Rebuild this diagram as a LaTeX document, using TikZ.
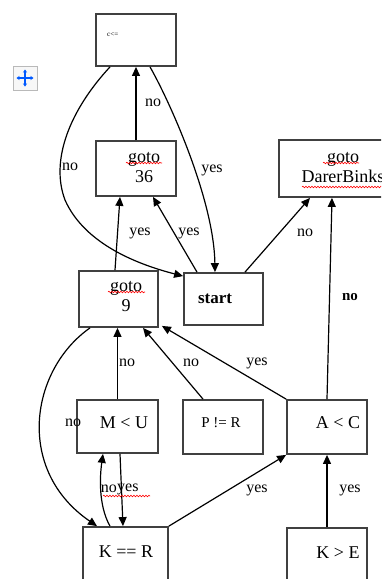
\documentclass[tikz,border=0pt]{standalone}
\usepackage{fontspec}
\setmainfont{Liberation Serif}
\usetikzlibrary{arrows.meta,calc,decorations.pathmorphing}
\begin{document}
\begin{tikzpicture}[x=1pt,y=-1pt,
 box/.style={draw=black!75,line width=1.8pt,rectangle,inner sep=0pt,anchor=center},
 btext/.style={font=\fontsize{18}{20}\selectfont,align=center,inner sep=0pt},
 lbl/.style={font=\fontsize{16}{18}\selectfont,inner sep=0pt},
 conn/.style={line width=1.2pt,-{Triangle[length=9pt,width=8pt]}},
 squig/.style={red,line width=0.6pt,decorate,decoration={snake,amplitude=0.8pt,segment length=3pt}}]
\useasboundingbox (0,0) rectangle (381,579);
\clip (0,0) rectangle (381,579);
% boxes
\node[box,minimum width=80,minimum height=52] (top) at (136,40) {};
\node[box,minimum width=80,minimum height=55] (g36) at (136,168.5) {};
\node[box,minimum width=122,minimum height=57] (dare) at (340,168.5) {};
\node[box,minimum width=79,minimum height=52] (start) at (223.5,299) {};
\node[box,minimum width=79,minimum height=56] (g9) at (118.5,299) {};
\node[box,minimum width=81,minimum height=53] (mu) at (117.5,426.5) {};
\node[box,minimum width=80,minimum height=54] (pr) at (223,427) {};
\node[box,minimum width=80,minimum height=54] (ac) at (327,427) {};
\node[box,minimum width=85,minimum height=63] (kr) at (125.5,558.5) {};
\node[box,minimum width=80,minimum height=62] (ke) at (327,559) {};
% texts
\node[font=\fontsize{7}{8}\selectfont,anchor=west,inner sep=0pt] (ttop) at (107,35) {c<=};
\node[btext] (t36) at (144,167.5) {goto\\36};
\node[btext] (tdare) at (343,168) {goto\\DarerBinks};
\node[font=\bfseries\fontsize{17}{19}\selectfont,inner sep=0pt] (tstart) at (215,299) {start};
\node[btext] (t9) at (126,297) {goto\\9};
\node[btext] (tmu) at (124,423) {M < U};
\node[font=\fontsize{15}{17}\selectfont,inner sep=0pt] (tpr) at (221,423) {P != R};
\node[btext] (tac) at (338,423) {A < C};
\node[btext] (tkr) at (126,552) {K == R};
\node[btext] (tke) at (338,553) {K > E};
% connectors
\draw[conn] (g36.north) -- (top.south);
\draw[conn] ($(top.south)+(14,0)$) .. controls (170,102) and (214,200) .. ($(start.north)+(-8.5,0)$);
\draw[conn] ($(top.south)+(-26,0)$) .. controls (70,110) and (50,160) .. (65,200) .. controls (85,245) and (140,265) .. ($(start.north west)+(0,4)$);
\draw[conn] ($(g9.north)+(-3.5,0)$) -- ($(g36.south)+(-16,0)$);
\draw[conn] ($(start.north)+(-26.5,0)$) -- ($(g36.south)+(17,0)$);
\draw[conn] ($(start.north)+(21.5,0)$) -- ($(dare.south)+(-30,0)$);
\draw[conn] (ac.north) -- ($(dare.south)+(-8,0)$);
\draw[conn] (ac.north west) -- ($(g9.south east)+(3,-2)$);
\draw[conn] ($(pr.north)+(-20,0)$) -- ($(g9.south)+(24.5,0)$);
\draw[conn] (mu.north) -- ($(g9.south)+(-1,0)$);
\draw[conn] ($(g9.south)+(-28.5,0)$) .. controls (30,370) and (15,470) .. ($(kr.north)+(-28.5,0)$);
\draw[conn] ($(kr.north)+(-15.5,0)$) .. controls (98,505) and (100,475) .. ($(mu.south)+(-14.5,0)$);
\draw[conn] ($(mu.south)+(2.5,0)$) -- ($(kr.north)+(-2.5,0)$);
\draw[conn] (kr.north east) -- (ac.south west);
\draw[conn] (ke.north) -- (ac.south);
% labels
\node[lbl] (l1) at (153,103) {no};
\node[lbl] (l2) at (212,170) {yes};
\node[lbl] (l3) at (70,167) {no};
\node[lbl] (l4) at (140,233) {yes};
\node[lbl] (l5) at (189,233) {yes};
\node[lbl] (l6) at (305,233) {no};
\node[lbl,font=\bfseries\fontsize{15}{17}\selectfont] (l7) at (350,297) {no};
\node[lbl] (l8) at (257,363) {yes};
\node[lbl] (l9) at (191,363) {no};
\node[lbl] (l10) at (127,363) {no};
\node[lbl] (l11) at (73,423) {no};
\node[lbl,anchor=east] (l12) at (117,489) {no};
\node[lbl,anchor=west] (l13) at (117,489) {yes};
\node[lbl] (l14) at (257,490) {yes};
\node[lbl] (l15) at (350,490) {yes};
% spelling marks
\draw[squig] (126,163) -- (162,163);
\draw[squig] (108,292) -- (145,292);
\draw[squig] (323,163) -- (359,163);
\draw[squig] (302,187) -- (385,187);
\draw[squig] (103,496) -- (150,496);
% move icon
\draw[gray!55,fill=gray!6,line width=1pt] (13,66) rectangle (37,90);
\draw[blue!65!cyan,line width=1.4pt,{Stealth[length=3pt,width=4pt]}-{Stealth[length=3pt,width=4pt]}] (16.5,78) -- (33.5,78);
\draw[blue!65!cyan,line width=1.4pt,{Stealth[length=3pt,width=4pt]}-{Stealth[length=3pt,width=4pt]}] (25,69.5) -- (25,86.5);
\end{tikzpicture}
\end{document}
